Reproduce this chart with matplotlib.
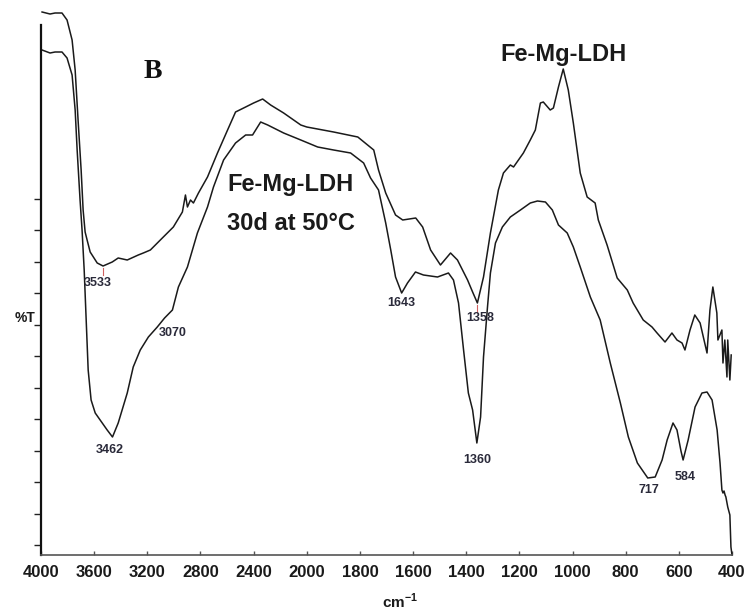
import numpy as np
import matplotlib
matplotlib.use("Agg")
import matplotlib.pyplot as plt

# ============================================================
# data (transmittance in arbitrary units)
# ============================================================

# Fe-Mg-LDH (upper trace)
wn_ldh = [3992, 3932, 3894, 3842, 3804, 3766, 3743, 3721, 3698, 3683, 3668, 3653,
          3630, 3577, 3533, 3464, 3419, 3351, 3268, 3230, 3177, 3102, 3004, 2936,
          2913, 2898, 2875, 2853, 2815, 2747, 2672, 2596, 2536, 2460, 2400, 2332,
          2272, 2174, 2045, 2000, 1899, 1808, 1748, 1730, 1703, 1666, 1639, 1590,
          1564, 1534, 1497, 1459, 1433, 1395, 1376, 1358, 1335, 1309, 1279, 1260,
          1234, 1222, 1185, 1159, 1140, 1121, 1110, 1084, 1072, 1053, 1035, 1016,
          997, 971, 945, 915, 903, 870, 832, 794, 772, 734, 701, 682, 652, 626,
          607, 588, 577, 558, 540, 520, 494, 483, 472, 457, 453, 438, 434, 427,
          419, 416, 408, 403]
t_ldh = [543, 541, 542, 542, 535, 515, 485, 435, 385, 345, 323, 315,
         303, 292, 289, 293, 297, 295, 300, 302, 305, 315, 328, 343,
         360, 348, 355, 352, 362, 378, 402, 425, 443, 448, 452, 456,
         450, 442, 430, 428, 423, 418, 405, 385, 362, 340, 335, 337,
         328, 305, 290, 302, 295, 275, 263, 252, 278, 322, 365, 382,
         390, 388, 402, 415, 425, 452, 453, 445, 447, 468, 486, 465,
         432, 382, 358, 352, 335, 310, 277, 265, 252, 235, 228, 222, 213, 222,
         215, 212, 205, 225, 240, 232, 202, 245, 268, 242, 215, 225, 192, 215,
         178, 215, 175, 200]

# Fe-Mg-LDH 30d at 50°C (lower trace)
wn_aged = [3992, 3932, 3894, 3842, 3804, 3766, 3743, 3728, 3706, 3691, 3675, 3660,
           3645, 3623, 3592, 3555, 3502, 3462, 3419, 3351, 3306, 3253, 3192, 3125,
           3070, 3011, 2966, 2898, 2823, 2747, 2702, 2626, 2536, 2460, 2408, 2347,
           2294, 2219, 2174, 2045, 1959, 1899, 1835, 1786, 1760, 1730, 1703, 1684,
           1666, 1643, 1621, 1591, 1561, 1508, 1467, 1448, 1429, 1410, 1392, 1376,
           1360, 1346, 1335, 1320, 1309, 1290, 1264, 1234, 1196, 1159, 1132, 1102,
           1076, 1053, 1020, 997, 971, 933, 896, 858, 820, 790, 756, 717, 689,
           663, 644, 622, 607, 592, 584, 565, 539, 513, 494, 475, 456, 445, 438,
           434, 430, 426, 423, 416, 408, 404, 400]
t_aged = [505, 502, 503, 503, 497, 480, 445, 405, 355, 325, 285, 235,
          185, 155, 142, 135, 125, 118, 132, 162, 188, 205, 218, 228,
          237, 245, 268, 288, 322, 348, 368, 395, 412, 420, 420, 433,
          430, 425, 422, 415, 408, 405, 402, 392, 377, 365, 332, 305,
          278, 262, 272, 283, 280, 278, 282, 275, 252, 205, 162, 145,
          112, 138, 198, 248, 282, 312, 328, 338, 345, 352, 354, 353,
          345, 330, 322, 308, 288, 258, 235, 192, 152, 118, 92, 77, 78,
          95, 115, 132, 125, 104, 95, 115, 148, 162, 163, 155, 125, 92, 65,
          62, 64, 60, 58, 48, 40, 8, 0]

# peak labels
peak_text = ["3533", "3462", "3070", "1643", "1358", "1360", "717", "584"]
peak_wn = [3570, 3479, 3011, 1643, 1346, 1358, 712, 576]
peak_t = [272, 105, 222, 252, 237, 95, 65, 78]

# red markers on the upper trace
mark_wn = [3533, 1358]
mark_t = [289, 252]

xticks = [4000, 3600, 3200, 2800, 2400, 2000, 1800, 1600, 1400, 1200, 1000, 800, 600, 400]
yticks = np.arange(12) * 31.5 + 10


# ============================================================
# x scale: 2x expanded below 2000 cm-1
# ============================================================

def fwd(x):
    x = np.asarray(x, dtype=float)
    return np.where(x <= 2000, x, 2000 + (x - 2000) / 2)


def inv(y):
    y = np.asarray(y, dtype=float)
    return np.where(y <= 2000, y, 2000 + (y - 2000) * 2)


plt.rcParams["font.family"] = ["Liberation Sans", "DejaVu Sans"]
plt.rcParams["mathtext.fontset"] = "custom"
plt.rcParams["mathtext.rm"] = "Liberation Sans"
plt.rcParams["mathtext.bf"] = "Liberation Sans:bold"

fig = plt.figure(figsize=(7.49, 6.10), dpi=100)
ax = fig.add_axes([41 / 749, 55 / 610, 691 / 749, 530 / 610])

ax.set_xscale("function", functions=(fwd, inv))

line_kw = dict(color="#1a1a1a", lw=1.1, clip_on=False)
ax.plot(wn_ldh, t_ldh, **line_kw)
ax.plot(wn_aged, t_aged, **line_kw)

for x, y in zip(mark_wn, mark_t):
    ax.plot([x, x], [y - 2, y - 9], color="#d06060", lw=0.8, clip_on=False)

for s, x, y in zip(peak_text, peak_wn, peak_t):
    ax.text(x, y, s, ha="center", va="center", fontsize=9, fontweight="bold",
            color="#2a2a3a", clip_on=False)

ax.set_xlim(4000, 400)
ax.set_ylim(0, 530)

ax.set_xticks(xticks)
ax.set_xticklabels([str(v) for v in xticks])
ax.minorticks_off()
ax.set_yticks(yticks)
ax.set_yticklabels([])

ax.tick_params(axis="x", direction="in", length=3, width=1, pad=7,
               labelsize=12, colors="#555555", labelcolor="#1a1a1a")
ax.tick_params(axis="y", direction="out", length=5, width=1, colors="#222222")
for lab in ax.get_xticklabels():
    lab.set_fontweight("bold")

ax.spines["top"].set_visible(False)
ax.spines["right"].set_visible(False)
ax.spines["left"].set_linewidth(1.6)
ax.spines["left"].set_color("#111111")
ax.spines["bottom"].set_linewidth(1.2)
ax.spines["bottom"].set_color("#555555")

# annotations
ax.text(3162, 483, "B", ha="center", va="center", fontsize=20, fontweight="bold",
        family="Liberation Serif", color="#111111")
ax.text(1035, 500, "Fe-Mg-LDH", ha="center", va="center", fontsize=17,
        fontweight="bold", color="#1a1a1a")
ax.text(2120, 370, "Fe-Mg-LDH", ha="center", va="center", fontsize=17,
        fontweight="bold", color="#1a1a1a")
ax.text(2120, 332, "30d at 50°C", ha="center", va="center", fontsize=17,
        fontweight="bold", color="#1a1a1a")

fig.text(25 / 749, 1 - 318 / 610, "%T", ha="center", va="center",
         fontsize=10, fontweight="bold", color="#1a1a1a")
fig.text(400 / 749, 1 - 601 / 610, r"cm$^{\mathbf{-1}}$", ha="center", va="center",
         fontsize=11, fontweight="bold", color="#1a1a1a")

fig.savefig("out.png", dpi=100)
